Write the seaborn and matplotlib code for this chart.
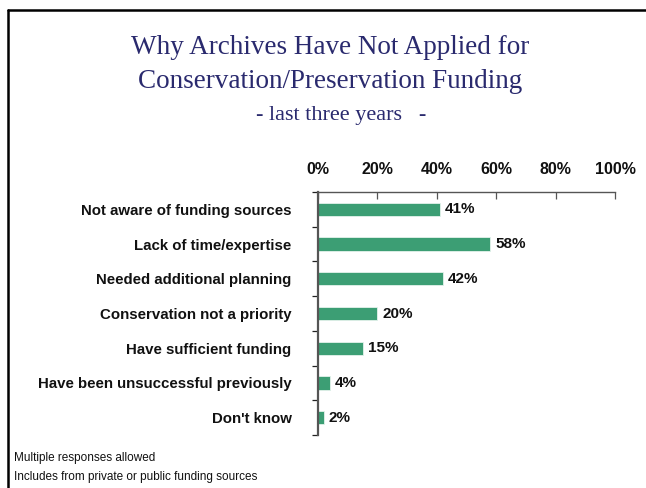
import matplotlib
matplotlib.use("Agg")
import matplotlib.pyplot as plt
from matplotlib.lines import Line2D
import seaborn as sns
import pandas as pd

categories = [
    "Not aware of funding sources",
    "Lack of time/expertise",
    "Needed additional planning",
    "Conservation not a priority",
    "Have sufficient funding",
    "Have been unsuccessful previously",
    "Don't know",
]
percent = [41, 58, 42, 20, 15, 4, 2]
x_ticks = [0, 20, 40, 60, 80, 100]
x_tick_labels = ["0%", "20%", "40%", "60%", "80%", "100%"]

title_lines = ["Why Archives Have Not Applied for", "Conservation/Preservation Funding"]
subtitle = "- last three years   -"
notes = ["Multiple responses allowed", "Includes from private or public funding sources"]

sns.set_theme(style="white")
plt.rcParams["font.family"] = ["Liberation Sans", "DejaVu Sans"]

df = pd.DataFrame({"category": categories, "percent": percent})

W, H = 646, 488
fig = plt.figure(figsize=(W / 100, H / 100), dpi=100)
ax = fig.add_axes([318 / W, 1 - 435 / H, (615 - 318) / W, (435 - 192) / H])

sns.barplot(data=df, x="percent", y="category", orient="h", color="#3c9e74",
            saturation=1, width=0.38, edgecolor="#e4f3ec", linewidth=0.6, ax=ax)

ax.set_xlim(0, 100)
ax.set_ylim(6.5, -0.5)
ax.set_xlabel("")
ax.set_ylabel("")

axis_grey = "#555555"

# percentage axis on top
ax.xaxis.set_ticks_position("top")
ax.set_xticks(x_ticks)
ax.set_xticklabels(x_tick_labels, fontsize=11.5, fontweight="bold", color="#111111")
ax.tick_params(axis="x", direction="in", length=5, width=0.9, color=axis_grey,
               pad=11, top=True, bottom=False)

# category labels with tick marks between the bands
ax.set_yticks(range(len(categories)))
ax.set_yticklabels(categories, fontsize=10.8, fontweight="bold", color="#111111")
ax.tick_params(axis="y", which="major", length=0, pad=19)
ax.set_yticks([i - 0.5 for i in range(len(categories) + 1)], minor=True)
ax.tick_params(axis="y", which="minor", left=True, length=4, width=0.9,
               color="#222222", direction="out")

for side in ["right", "bottom"]:
    ax.spines[side].set_visible(False)
ax.spines["top"].set_color(axis_grey)
ax.spines["top"].set_linewidth(1.0)
ax.spines["left"].set_color(axis_grey)
ax.spines["left"].set_linewidth(1.6)

for i, v in enumerate(percent):
    ax.text(v + 1.7, i, f"{v}%", va="center", ha="left", fontsize=11,
            fontweight="bold", color="#111111")

# titles
navy = "#2a2a6e"
serif = ["Liberation Serif", "DejaVu Serif"]
fig.text(330 / W, 1 - 54 / H, title_lines[0], ha="center", va="baseline",
         fontsize=19.5, color=navy, family=serif)
fig.text(330 / W, 1 - 88 / H, title_lines[1], ha="center", va="baseline",
         fontsize=19.5, color=navy, family=serif)
fig.text(341 / W, 1 - 120 / H, subtitle, ha="center", va="baseline",
         fontsize=16, color=navy, family=serif)

# footnotes
fig.text(14 / W, 1 - 458 / H, notes[0], ha="left", va="center", fontsize=8.5, color="#111111")
fig.text(14 / W, 1 - 477 / H, notes[1], ha="left", va="center", fontsize=8.5, color="#111111")

# slide frame along the top and left edges
fig.add_artist(Line2D([8 / W, 8 / W], [0, 1 - 10 / H], transform=fig.transFigure,
                      color="black", linewidth=1.8))
fig.add_artist(Line2D([8 / W, 1], [1 - 10 / H, 1 - 10 / H], transform=fig.transFigure,
                      color="black", linewidth=1.8))

fig.savefig("out.png", dpi=100)
